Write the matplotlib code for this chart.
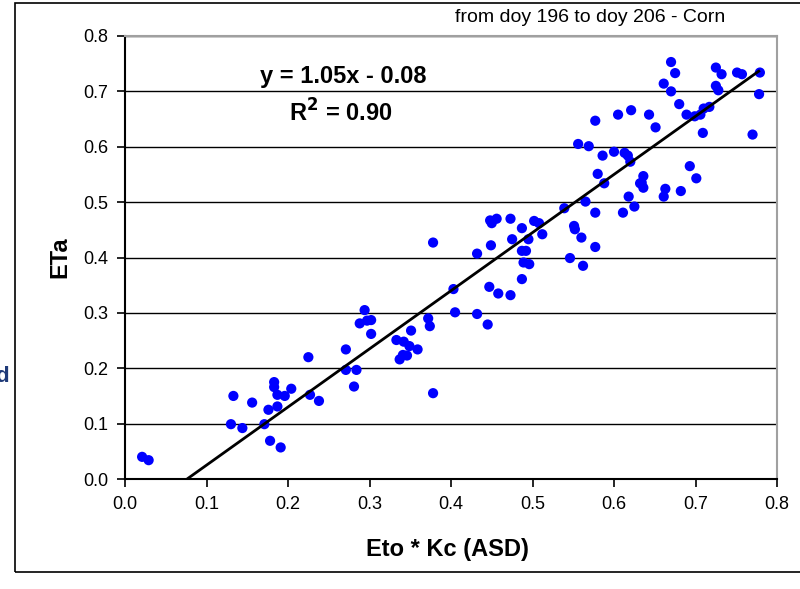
import matplotlib
matplotlib.use("Agg")
import matplotlib.pyplot as plt
from matplotlib.patches import Rectangle

plt.rcParams['font.family'] = ['Liberation Sans', 'DejaVu Sans']

# ---- data ----
eto_kc = [
    0.021, 0.029, 0.225, 0.133, 0.130, 0.144, 0.156, 0.171, 0.176, 0.178,
    0.191, 0.183, 0.183, 0.187, 0.187, 0.196, 0.204, 0.227, 0.238,
    0.378, 0.432, 0.403, 0.405, 0.432, 0.294, 0.288, 0.297, 0.302, 0.302,
    0.271, 0.271, 0.284, 0.281, 0.378, 0.333, 0.342, 0.349, 0.351, 0.359,
    0.337, 0.341, 0.346, 0.372, 0.374,
    0.445, 0.447, 0.458, 0.473, 0.449, 0.448, 0.450, 0.456, 0.473, 0.487,
    0.475, 0.495, 0.502, 0.508, 0.512, 0.487, 0.492, 0.489, 0.496, 0.487,
    0.539, 0.551, 0.552, 0.560, 0.546, 0.562, 0.577, 0.565, 0.577, 0.580,
    0.588, 0.611, 0.618, 0.625, 0.620, 0.632,
    0.556, 0.569, 0.577, 0.586, 0.600, 0.613, 0.617, 0.605, 0.621, 0.636,
    0.634, 0.636, 0.643, 0.651, 0.661, 0.663, 0.682, 0.693, 0.701, 0.661,
    0.670, 0.675, 0.670, 0.680, 0.689, 0.699, 0.706, 0.709, 0.710, 0.717,
    0.725, 0.732, 0.725, 0.728, 0.751, 0.757, 0.779, 0.778, 0.770,
]
eta = [
    0.040, 0.034, 0.220, 0.150, 0.099, 0.092, 0.138, 0.099, 0.125, 0.069,
    0.057, 0.175, 0.166, 0.152, 0.131, 0.150, 0.163, 0.152, 0.141,
    0.427, 0.407, 0.343, 0.301, 0.298, 0.305, 0.281, 0.286, 0.287, 0.262,
    0.234, 0.197, 0.197, 0.167, 0.155, 0.251, 0.248, 0.240, 0.268, 0.234,
    0.216, 0.224, 0.223, 0.290, 0.276,
    0.279, 0.347, 0.335, 0.332, 0.422, 0.467, 0.462, 0.470, 0.470, 0.453,
    0.433, 0.433, 0.466, 0.462, 0.442, 0.412, 0.412, 0.391, 0.388, 0.361,
    0.489, 0.457, 0.451, 0.436, 0.399, 0.385, 0.419, 0.501, 0.481, 0.551,
    0.534, 0.481, 0.510, 0.492, 0.573, 0.534,
    0.605, 0.601, 0.647, 0.584, 0.591, 0.589, 0.584, 0.658, 0.666, 0.547,
    0.535, 0.526, 0.658, 0.635, 0.510, 0.524, 0.520, 0.565, 0.543, 0.714,
    0.753, 0.733, 0.700, 0.677, 0.658, 0.655, 0.658, 0.625, 0.669, 0.672,
    0.743, 0.731, 0.710, 0.702, 0.734, 0.731, 0.734, 0.695, 0.622,
]
slope = 1.05
intercept = -0.08
eq_text = "y = 1.05x - 0.08"
r2_text = "R$^{\\mathbf{2}}$ = 0.90"
tick_vals = [0.0, 0.1, 0.2, 0.3, 0.4, 0.5, 0.6, 0.7, 0.8]
tick_labels = ["0.0", "0.1", "0.2", "0.3", "0.4", "0.5", "0.6", "0.7", "0.8"]
title_text = "from doy 196 to doy 206 - Corn"
x_title = "Eto * Kc (ASD)"
y_title = "ETa"

# ---- figure ----
fig = plt.figure(figsize=(8.0, 5.89), dpi=100)
fig.patch.set_facecolor("white")

# outer frame
fig.add_artist(Rectangle((15 / 800, 1 - 572 / 589), 1.2, 569 / 589,
                         transform=fig.transFigure, fill=False,
                         edgecolor="black", linewidth=1.2))

ax = fig.add_axes([125 / 800, 1 - 479 / 589, 652 / 800, 443 / 589])
ax.set_xlim(0, 0.8)
ax.set_ylim(0, 0.8)

for v in tick_vals[1:]:
    ax.axhline(v, color="black", linewidth=1.0, zorder=1)

ax.scatter(eto_kc, eta, s=54, color="#0000ff", edgecolors="none", zorder=3)

x_start = -intercept / slope
x_end = max(eto_kc)
ax.plot([x_start, x_end], [slope * x_start + intercept, slope * x_end + intercept],
        color="black", linewidth=2.0, zorder=4, solid_capstyle="butt")

ax.text(0.268, 0.727, eq_text, fontsize=17, fontweight="bold",
        ha="center", va="center", zorder=5)
ax.text(0.265, 0.661, r2_text, fontsize=17, fontweight="bold",
        ha="center", va="center", zorder=5)

ax.set_xticks(tick_vals)
ax.set_xticklabels(tick_labels)
ax.set_yticks(tick_vals)
ax.set_yticklabels(tick_labels)
ax.tick_params(axis="both", direction="out", length=6, width=1.2,
               labelsize=13, pad=6, color="black")

for s in ["left", "bottom"]:
    ax.spines[s].set_color("black")
    ax.spines[s].set_linewidth(1.5)
for s in ["top", "right"]:
    ax.spines[s].set_color("#a0a0a0")
    ax.spines[s].set_linewidth(1.5)

ax.set_xlabel(x_title, fontsize=17, fontweight="bold")
ax.xaxis.set_label_coords(0.495, -0.16)
ax.xaxis.label.set_va("center")
ax.set_ylabel(y_title, fontsize=17, fontweight="bold")
ax.yaxis.set_label_coords(-0.10, 0.5)
ax.yaxis.label.set_va("center")

fig.text(590 / 800, 1 - 17 / 589, title_text, fontsize=14,
         ha="center", va="center")

fig.text(-5 / 800, 1 - 377 / 589, "d", fontsize=16, fontweight="bold",
         color="#1f3a78", ha="left", va="center")

fig.savefig("out.png", dpi=100, facecolor="white")
